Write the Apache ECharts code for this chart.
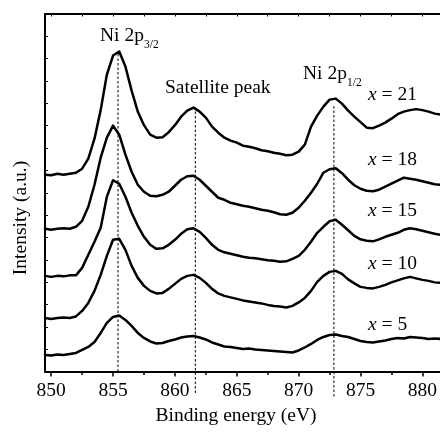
<!DOCTYPE html>
<html><head><meta charset="utf-8">
<script src="https://cdn.jsdelivr.net/npm/echarts@6/dist/echarts.min.js"></script>
<style>html,body{margin:0;padding:0;background:#fff}#c{width:440px;height:432px}</style>
</head><body><div id="c"></div>
<script>
// Binding energy grid (eV)
const energy = [849.5,850,850.5,851,851.5,852,852.5,853,853.5,854,854.5,855,855.5,856,856.5,857,857.5,858,858.5,859,859.5,860,860.5,861,861.5,862,862.5,863,863.5,864,864.5,865,865.5,866,866.5,867,867.5,868,868.5,869,869.5,870,870.5,871,871.5,872,872.5,873,873.5,874,874.5,875,875.5,876,876.5,877,877.5,878,878.5,879,879.5,880,880.5,881,881.5];
// Intensities (a.u., stacked offsets included)
const x21 = [196.5,196,197.5,196.5,197.5,198.5,202.5,212.5,232.5,261,296.5,315.5,319.5,304.5,280.5,259.5,246,236.5,233.5,234,239,246,254.5,260.5,263.5,259.5,253.5,244.5,238.5,233.5,230.5,228.5,225.5,224.5,223,221,220,218.5,217.5,216,216.5,219.5,226.5,244.5,255.5,264.5,271.5,272.5,267.5,260.5,254.5,249,243.5,243,245.5,248.5,252.5,257,259.5,261,262,261,259.5,257.5,256.5];
const x18 = [142.5,141.5,142.5,143,142.5,144.5,150.5,164.5,186.5,213.5,233.5,245.5,236.5,216.5,199.5,186.5,179.5,175.5,175,176.5,179.5,185.5,191.5,195,195.5,191.5,185.5,179.5,173.5,171.5,168.5,167,165.5,164.5,163,161.5,160.5,159,157,156.5,158.5,163.5,170.5,178.5,187.5,198.5,202,203,198,191.5,186,182.5,180.5,180,181.5,184.5,187.5,190.5,193.5,192.5,191.5,190,188.5,187,186.5];
const x15 = [95.5,94.5,95.5,95,96,96,103.5,116.5,129.5,143.5,174.5,191,187.5,174.5,158.5,145.5,134.5,126.5,122.5,123,126.5,131.5,137.5,142,143,139.5,133.5,126.5,121.5,119,117.5,116,114.5,113.5,113,112,111,110.5,109.5,110,112.5,115.5,121.5,129.5,138.5,144.5,150,151.5,146.5,141,135.5,132,130.5,130,132,134.5,136.5,138.5,141.5,143,142,140.5,139,137.5,136.5];
const x10 = [53.5,52.5,53.5,54,53.5,55,60.5,68.5,80.5,96.5,115.5,131.5,132.5,121.5,105.5,93.5,85.5,80.5,78,78.5,82.5,87.5,92.5,95.5,96.5,93.5,88.5,82.5,78,75.5,74,72.5,71,70,69,68,66.5,65.5,65,64,65.5,69,73.5,80.5,89.5,95.5,99.5,100.5,97.5,92,88,84.5,83.5,83,84.5,86.5,89,91,93,94.5,93,91.5,90.5,89,88.5];
const x5 = [16.5,16,17,16.5,17.5,18.5,21.5,24.5,29.5,38.5,48.5,54.5,56,51.5,45.5,38.5,33.5,30,28,28.5,30.5,32,34,35,35.5,34,32,29,27,25,24.5,23.5,22.5,23,22,21.5,21,20.5,20,19.5,19,21,24,27.5,31.5,34.5,36.5,37,35.5,34.5,32.5,30.5,29.5,29,30,31,32.5,33.5,33,34.5,34,33.5,32.5,33,32.5];
const curveNames = ['x = 21','x = 18','x = 15','x = 10','x = 5'];
const curves = [x21, x18, x15, x10, x5];
// Reference peak positions (eV) and dashed line extents (a.u.)
const peakPos = [855.4, 861.65, 872.85];
const peakLow = [0, -21.5, -25];
const peakHigh = [319.5, 264, 265];
// Tick values
const xMajor = [850,855,860,865,870,875,880];
const xMinor = [852.5,857.5,862.5,867.5,872.5,877.5];
const xTop = [850,852.5,855,857.5,860,862.5,865,867.5,870,872.5,875,877.5,880];

const FONT = '"Liberation Serif", "Times New Roman", serif';
const FS = 19.5;
const chart = echarts.init(document.getElementById('c'), null, {renderer:'canvas'});

const series = curves.map((v, k) => ({
  name: curveNames[k], type: 'line', xAxisIndex: 0, yAxisIndex: 0,
  data: energy.map((e, i) => [e, v[i]]),
  showSymbol: false, symbol: 'none', animation: false,
  lineStyle: {color: '#000', width: 2.5, join: 'round', cap: 'round'}
}));
peakPos.forEach((p, k) => series.push({
  type: 'line', xAxisIndex: 0, yAxisIndex: 0, clip: false, silent: true,
  data: [[p, peakLow[k]], [p, peakHigh[k]]],
  showSymbol: false, symbol: 'none', animation: false,
  lineStyle: {color: '#000', width: 1, type: [2.5, 2]}
}));

const txt = (t, x, y, size) => ({
  type: 'text', left: x, top: y,
  style: {text: t, font: size + 'px ' + FONT, fill: '#000'}
});

const labels = [
  txt('Ni 2p', 100, 25.5, FS), txt('3/2', 144, 38.5, 11.5),
  txt('Satellite peak', 165, 78, FS),
  txt('Ni 2p', 303, 63.5, FS), txt('1/2', 347, 76.5, 11.5),
];
const xLabelTops = [85.2, 150.2, 200.8, 253.5, 314.5];
const xLabelNums = ['21','18','15','10','5'];
xLabelTops.forEach((t, k) => labels.push({
  type: 'text', left: 368, top: t,
  style: {text: '{i|x} = ' + xLabelNums[k], font: FS + 'px ' + FONT, fill: '#000',
    rich: {i: {fontStyle: 'italic', fontSize: FS, fontFamily: 'Liberation Serif'}}}
}));
labels.push({type:'text', x: 236, y: 426, style:{text:'Binding energy (eV)', font: FS + 'px ' + FONT, fill:'#000', align:'center', verticalAlign:'bottom'}});
labels.push({type:'text', x: 21, y: 218, rotation: Math.PI/2, style:{text:'Intensity (a.u.)', font: FS + 'px ' + FONT, fill:'#000', align:'center', verticalAlign:'middle'}});

chart.setOption({
  animation: false,
  backgroundColor: '#fff',
  grid: {left: 45, right: -2, top: 14, bottom: 60.5, containLabel: false},
  xAxis: [
    {type:'value', position:'bottom', min:849.5, max:881.4,
     axisLine:{show:true, lineStyle:{color:'#000', width:2}},
     axisTick:{show:true, inside:false, length:5, customValues: xMajor, lineStyle:{color:'#000', width:1.5}},
     axisLabel:{show:true, customValues: xMajor, margin:9, color:'#000', fontSize:FS, fontFamily:'Liberation Serif'},
     splitLine:{show:false}},
    {type:'value', position:'bottom', min:849.5, max:881.4,
     axisLine:{show:false},
     axisTick:{show:true, inside:false, length:3.5, customValues: xMinor, lineStyle:{color:'#000', width:1.5}},
     axisLabel:{show:false}, splitLine:{show:false}},
    {type:'value', position:'top', min:849.5, max:881.4,
     axisLine:{show:true, lineStyle:{color:'#000', width:2}},
     axisTick:{show:true, inside:true, length:2.5, customValues: xTop, lineStyle:{color:'#000', width:1}},
     axisLabel:{show:false}, splitLine:{show:false}}
  ],
  yAxis: [{type:'value', min:0, max:357, interval:22.3125,
     axisLine:{show:true, lineStyle:{color:'#000', width:2}},
     axisTick:{show:true, inside:true, length:3, lineStyle:{color:'#000', width:1}},
     axisLabel:{show:false}, splitLine:{show:false}}],
  series: series,
  graphic: labels
});
</script></body></html>
